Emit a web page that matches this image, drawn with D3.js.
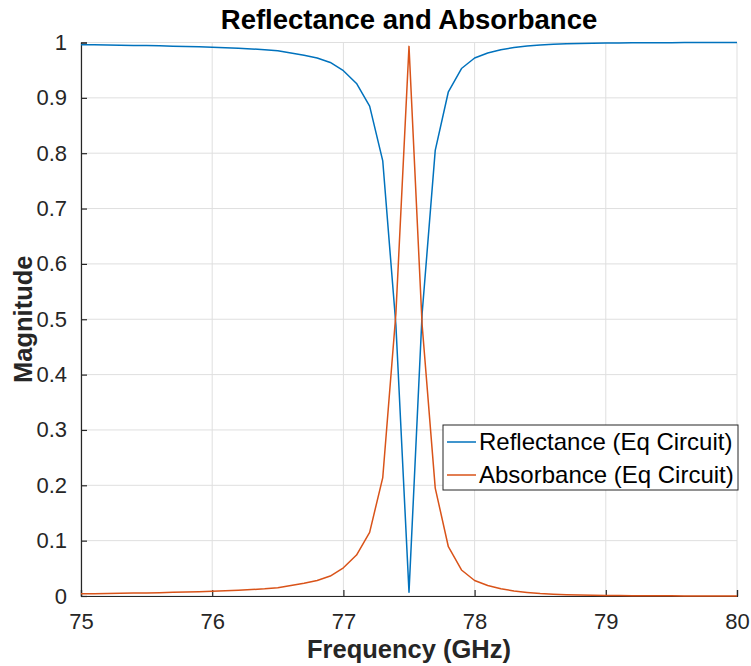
<!DOCTYPE html>
<html>
<head>
<meta charset="utf-8">
<script src="https://cdn.jsdelivr.net/npm/d3@7"></script>
<style>
  body { margin: 0; background: #fff; }
  text { font-family: "Liberation Sans", Arial, sans-serif; }
</style>
</head>
<body>
<div id="chart"></div>
<script>
const freq = [75.0, 75.1, 75.2, 75.3, 75.4, 75.5, 75.6, 75.7, 75.8, 75.9,
              76.0, 76.1, 76.2, 76.3, 76.4, 76.5, 76.6, 76.7, 76.8, 76.9,
              77.0, 77.1, 77.2, 77.3, 77.4, 77.5, 77.6, 77.7, 77.8, 77.9,
              78.0, 78.1, 78.2, 78.3, 78.4, 78.5, 78.6, 78.7, 78.8, 78.9,
              79.0, 79.1, 79.2, 79.3, 79.4, 79.5, 79.6, 79.7, 79.8, 79.9, 80.0];

const reflectance = [0.996, 0.9958, 0.9955, 0.9952, 0.9948, 0.9944, 0.994, 0.9934, 0.9928, 0.9922,
                     0.9915, 0.9906, 0.9896, 0.9884, 0.987, 0.985, 0.981, 0.977, 0.972, 0.964,
                     0.949, 0.926, 0.885, 0.786, 0.49, 0.007, 0.51, 0.805, 0.911, 0.953,
                     0.972, 0.981, 0.987, 0.991, 0.9935, 0.9955, 0.9968, 0.9977, 0.9983, 0.9988,
                     0.9991, 0.9993, 0.9995, 0.9996, 0.9997, 0.9997, 0.9998, 0.9998, 0.9999, 0.9999, 0.9999];

const absorbance = [0.004, 0.0042, 0.0045, 0.0048, 0.0052, 0.0056, 0.006, 0.0066, 0.0072, 0.0078,
                    0.0085, 0.0094, 0.0104, 0.0116, 0.013, 0.015, 0.019, 0.023, 0.028, 0.036,
                    0.051, 0.074, 0.115, 0.214, 0.51, 0.993, 0.49, 0.195, 0.089, 0.047,
                    0.028, 0.019, 0.013, 0.009, 0.0065, 0.0045, 0.0032, 0.0023, 0.0017, 0.0012,
                    0.0009, 0.0007, 0.0005, 0.0004, 0.0003, 0.0003, 0.0002, 0.0002, 0.0001, 0.0001, 0.0001];

const xTicks = [75, 76, 77, 78, 79, 80];
const yTicks = [0, 0.1, 0.2, 0.3, 0.4, 0.5, 0.6, 0.7, 0.8, 0.9, 1];

const seriesNames = ["Reflectance (Eq Circuit)", "Absorbance (Eq Circuit)"];
const seriesColors = ["#0072BD", "#D95319"];

const margin = { top: 42.5, right: 14, bottom: 70, left: 81 };
const width = 751 - margin.left - margin.right;
const height = 666 - margin.top - margin.bottom;

const svg = d3.select("#chart")
    .append("svg")
    .attr("width", 751)
    .attr("height", 666)
    .append("g")
    .attr("transform", `translate(${margin.left},${margin.top})`);

const x = d3.scaleLinear().domain([75, 80]).range([0, width]);
const y = d3.scaleLinear().domain([0, 1]).range([height, 0]);

// grid
svg.append("g")
    .selectAll("line")
    .data(xTicks)
    .enter().append("line")
    .attr("x1", d => x(d)).attr("x2", d => x(d))
    .attr("y1", 0).attr("y2", height)
    .attr("stroke", "#dfdfdf").attr("stroke-width", 1);

svg.append("g")
    .selectAll("line")
    .data(yTicks)
    .enter().append("line")
    .attr("x1", 0).attr("x2", width)
    .attr("y1", d => y(d)).attr("y2", d => y(d))
    .attr("stroke", "#dfdfdf").attr("stroke-width", 1);

// axes (ticks point inward, like MATLAB)
const xAxis = svg.append("g")
    .attr("transform", `translate(0,${height})`)
    .call(d3.axisBottom(x).tickValues(xTicks).tickSize(-6).tickPadding(17).tickFormat(d3.format("d")));

const yAxis = svg.append("g")
    .call(d3.axisLeft(y).tickValues(yTicks).tickSize(-6).tickPadding(14).tickFormat(d => d === 0 || d === 1 ? d : d3.format(".1f")(d)));

[xAxis, yAxis].forEach(a => {
    a.select(".domain").attr("stroke", "#262626").attr("stroke-width", 1.2);
    a.selectAll(".tick line").attr("stroke", "#262626").attr("stroke-width", 1.2);
    a.selectAll("text")
        .style("font-family", "'Liberation Sans', Arial, sans-serif")
        .style("font-size", "22px")
        .style("fill", "#262626");
});

// lines
const line = d3.line()
    .x((d, i) => x(freq[i]))
    .y(d => y(d));

[reflectance, absorbance].forEach((series, k) => {
    svg.append("path")
        .datum(series)
        .attr("fill", "none")
        .attr("stroke", seriesColors[k])
        .attr("stroke-width", 1.5)
        .attr("stroke-linejoin", "round")
        .attr("d", line);
});

// title & labels
svg.append("text")
    .attr("x", width / 2)
    .attr("y", -14)
    .attr("text-anchor", "middle")
    .style("font-size", "27.5px")
    .style("font-weight", "bold")
    .style("fill", "#000")
    .text("Reflectance and Absorbance");

svg.append("text")
    .attr("x", width / 2)
    .attr("y", height + 62)
    .attr("text-anchor", "middle")
    .style("font-size", "25.5px")
    .style("font-weight", "bold")
    .style("fill", "#262626")
    .text("Frequency (GHz)");

svg.append("text")
    .attr("transform", "rotate(-90)")
    .attr("x", -height / 2)
    .attr("y", -49)
    .attr("text-anchor", "middle")
    .style("font-size", "25.5px")
    .style("font-weight", "bold")
    .style("fill", "#262626")
    .text("Magnitude");

// legend
const legend = svg.append("g")
    .attr("transform", `translate(${443 - margin.left},${425 - margin.top})`);

legend.append("rect")
    .attr("width", 295)
    .attr("height", 65)
    .attr("fill", "#fff")
    .attr("stroke", "#262626")
    .attr("stroke-width", 1);

seriesNames.forEach((name, k) => {
    const ly = 17 + k * 33;
    legend.append("line")
        .attr("x1", 4).attr("x2", 33)
        .attr("y1", ly).attr("y2", ly)
        .attr("stroke", seriesColors[k])
        .attr("stroke-width", 1.5);
    legend.append("text")
        .attr("x", 36)
        .attr("y", ly)
        .attr("dy", "0.35em")
        .style("font-size", "24px")
        .style("fill", "#000")
        .text(name);
});
</script>
</body>
</html>
